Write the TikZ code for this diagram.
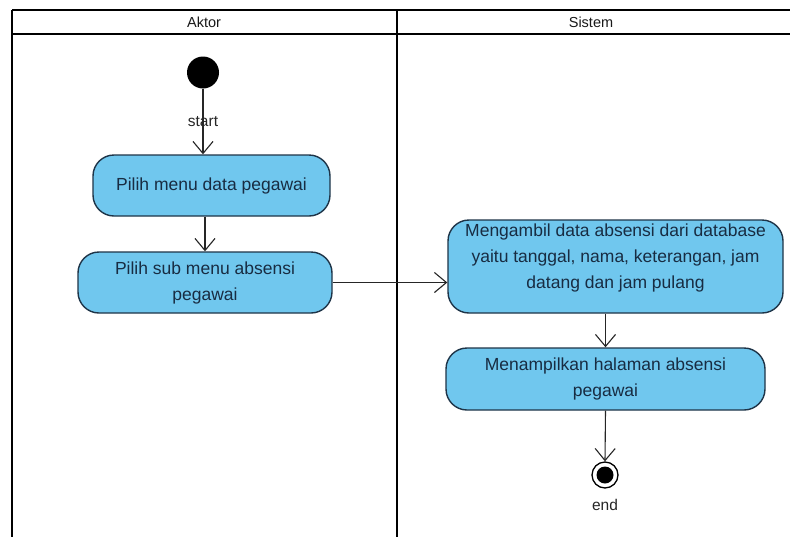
\documentclass[tikz,border=0pt]{standalone}
\usepackage{fontspec}
\setmainfont{Liberation Sans}
\usetikzlibrary{arrows.meta}
\definecolor{actfill}{RGB}{112,199,238}
\definecolor{actline}{RGB}{30,52,72}
\definecolor{acttext}{RGB}{24,44,66}
\tikzset{
  lane/.style={line width=2.6pt, black},
  lanehead/.style={font=\fontsize{14.5}{16}\selectfont, text=black!90},
  action/.style={draw=actline, line width=1.4pt, fill=actfill, rounded corners=21pt,
    align=center, text=acttext, font=\fontsize{17.5}{26}\selectfont, inner sep=0pt},
  flow/.style={line width=1.1pt, black!85, -{Straight Barb[length=12pt,width=20pt,line width=1.1pt]}},
  initial/.style={circle, fill=black, minimum size=32pt, inner sep=0pt},
  finalring/.style={circle, draw=black, line width=1.3pt, fill=white, minimum size=26pt, inner sep=0pt},
  finaldot/.style={circle, fill=black, minimum size=17pt, inner sep=0pt},
  tag/.style={font=\fontsize{15.5}{17}\selectfont, text=black!85, inner sep=0pt}
}
\begin{document}
\begin{tikzpicture}[x=1pt, y=-1pt]
  \useasboundingbox (0,0) rectangle (790,536);
  \fill[white] (0,0) rectangle (790,536);

  % swimlanes
  \draw[lane] (12,10) -- (792,10);
  \draw[lane] (12,34) -- (792,34);
  \draw[lane] (12,10) -- (12,540);
  \draw[lane] (397,10) -- (397,540);
  \node[lanehead] (hAktor) at (204,22) {Aktor};
  \node[lanehead] (hSistem) at (591,22) {Sistem};

  % actions
  \node[initial] (start) at (203,72.5) {};
  \node[action, minimum width=237pt, minimum height=61pt] (b1) at (211.5,185.5) {Pilih menu data pegawai};
  \node[action, minimum width=254pt, minimum height=61pt] (b2) at (205,282.5) {Pilih sub menu absensi\\pegawai};
  \node[action, minimum width=335pt, minimum height=93pt, text depth=20pt] (b3) at (615.5,266.5) {Mengambil data absensi dari database\\yaitu tanggal, nama, keterangan, jam\\datang dan jam pulang};
  \node[action, minimum width=319pt, minimum height=62pt] (b4) at (605.5,379) {Menampilkan halaman absensi\\pegawai};
  \node[finalring] (endring) at (605,475) {};
  \node[finaldot] (enddot) at (605,475) {};

  % flows
  \draw[flow] (start) -- node[tag, pos=0.5] (lstart) {start} (start |- b1.north);
  \draw[flow] (b2.north |- b1.south) -- (b2.north);
  \draw[flow] (b2.east) -- (b3.west |- b2.east);
  \draw[flow] (b4.north |- b3.south) -- (b4.north);
  \draw[flow] (b4.south) -- (endring.north);
  \node[tag] (lend) at (605,505) {end};
\end{tikzpicture}
\end{document}
